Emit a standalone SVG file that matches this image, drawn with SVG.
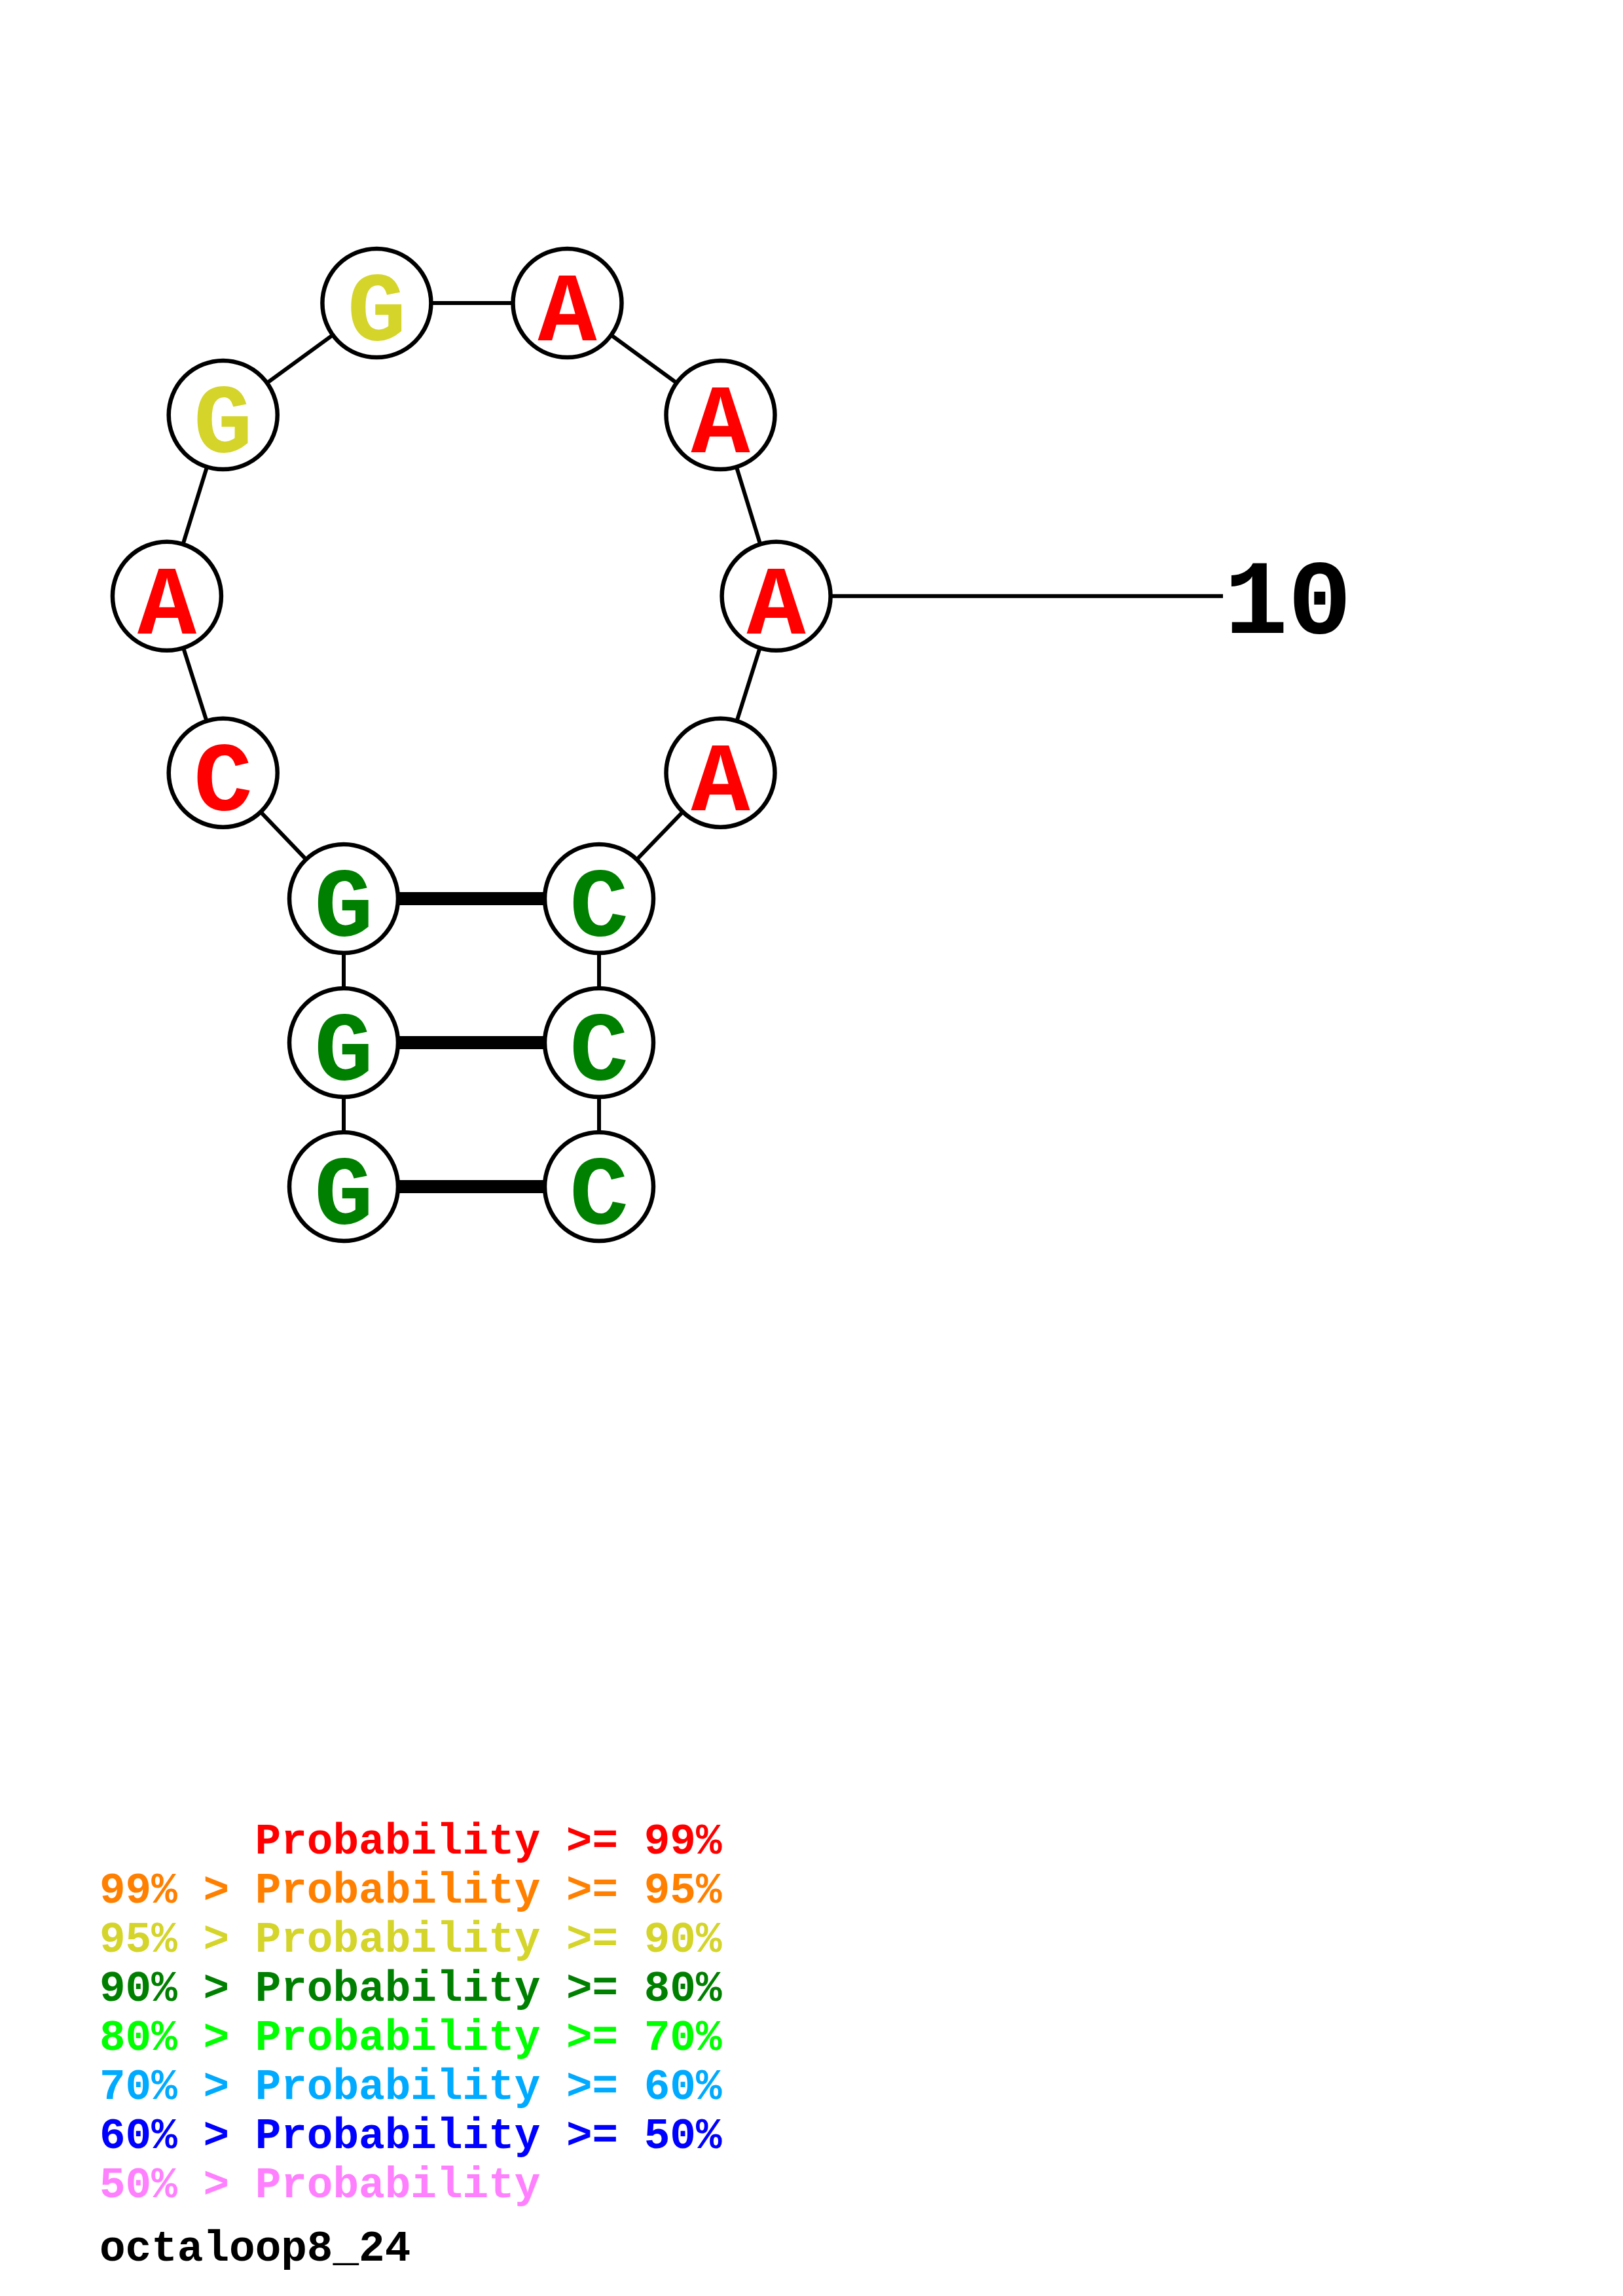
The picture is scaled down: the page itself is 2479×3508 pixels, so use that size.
<svg xmlns="http://www.w3.org/2000/svg" width="2479" height="3508" viewBox="0 0 2479 3508">
<style>
.bb{stroke:#000;stroke-width:6;fill:none}
.bp{stroke:#000;stroke-width:20;fill:none}
.nd circle{fill:#fff;stroke:#000;stroke-width:6.5}
.nt{font-family:"Liberation Mono","Courier New",monospace;font-weight:bold;font-size:150px;text-anchor:middle}
.num{font-family:"Liberation Mono","Courier New",monospace;font-weight:bold;font-size:162px}
.lg{font-family:"Liberation Mono","Courier New",monospace;font-weight:bold;font-size:66px}
.r{fill:#FF0000}.o{fill:#FF8000}.y{fill:#D4D42B}.g{fill:#008000}.lgr{fill:#00FF00}.s{fill:#00AAFF}.b{fill:#0000FF}.p{fill:#FF80FF}.k{fill:#000}
</style>
<rect width="2479" height="3508" fill="#fff"/>
<g id="connectors">
<polyline class="bb" points="525,1813 525,1593 525,1373 340.7,1180.7 254.9,910.8 340.7,634 575.4,463 866.5,463 1100.5,634 1185.6,910.8 1100.5,1180.7 915,1373 915,1593 915,1813"/>
<line class="bb" x1="1185.6" y1="910.8" x2="1868" y2="910.8"/>
<line class="bp" x1="525" y1="1373" x2="915" y2="1373"/>
<line class="bp" x1="525" y1="1593" x2="915" y2="1593"/>
<line class="bp" x1="525" y1="1813" x2="915" y2="1813"/>
</g>
<g id="n1" class="nd"><circle cx="525" cy="1813" r="83"/><text class="nt g" x="525" y="1870">G</text></g>
<g id="n2" class="nd"><circle cx="525" cy="1593" r="83"/><text class="nt g" x="525" y="1650">G</text></g>
<g id="n3" class="nd"><circle cx="525" cy="1373" r="83"/><text class="nt g" x="525" y="1430">G</text></g>
<g id="n4" class="nd"><circle cx="340.7" cy="1180.7" r="83"/><text class="nt r" x="340.7" y="1237.7">C</text></g>
<g id="n5" class="nd"><circle cx="254.9" cy="910.8" r="83"/><text class="nt r" x="254.9" y="967.8">A</text></g>
<g id="n6" class="nd"><circle cx="340.7" cy="634" r="83"/><text class="nt y" x="340.7" y="691">G</text></g>
<g id="n7" class="nd"><circle cx="575.4" cy="463" r="83"/><text class="nt y" x="575.4" y="520">G</text></g>
<g id="n8" class="nd"><circle cx="866.5" cy="463" r="83"/><text class="nt r" x="866.5" y="520">A</text></g>
<g id="n9" class="nd"><circle cx="1100.5" cy="634" r="83"/><text class="nt r" x="1100.5" y="691">A</text></g>
<g id="n10" class="nd"><circle cx="1185.6" cy="910.8" r="83"/><text class="nt r" x="1185.6" y="967.8">A</text></g>
<g id="n11" class="nd"><circle cx="1100.5" cy="1180.7" r="83"/><text class="nt r" x="1100.5" y="1237.7">A</text></g>
<g id="n12" class="nd"><circle cx="915" cy="1373" r="83"/><text class="nt g" x="915" y="1430">C</text></g>
<g id="n13" class="nd"><circle cx="915" cy="1593" r="83"/><text class="nt g" x="915" y="1650">C</text></g>
<g id="n14" class="nd"><circle cx="915" cy="1813" r="83"/><text class="nt g" x="915" y="1870">C</text></g>
<g id="label10"><text class="num k" x="1870" y="967">10</text></g>
<g id="legend">
<text class="lg r" x="389.6" y="2832">Probability &gt;= 99%</text>
<text class="lg o" x="152" y="2907">99% &gt; Probability &gt;= 95%</text>
<text class="lg y" x="152" y="2982">95% &gt; Probability &gt;= 90%</text>
<text class="lg g" x="152" y="3057">90% &gt; Probability &gt;= 80%</text>
<text class="lg lgr" x="152" y="3132">80% &gt; Probability &gt;= 70%</text>
<text class="lg s" x="152" y="3207">70% &gt; Probability &gt;= 60%</text>
<text class="lg b" x="152" y="3282">60% &gt; Probability &gt;= 50%</text>
<text class="lg p" x="152" y="3357">50% &gt; Probability</text>
<text class="lg k" x="152" y="3454">octaloop8_24</text>
</g>
</svg>
